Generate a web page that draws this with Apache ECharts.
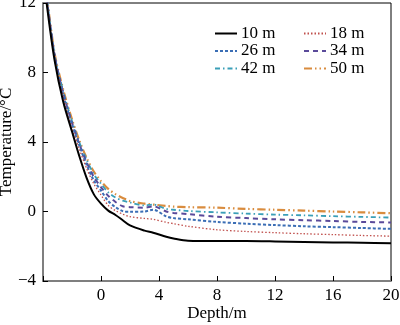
<!DOCTYPE html>
<html><head><meta charset="utf-8">
<script src="https://cdn.jsdelivr.net/npm/echarts@6/dist/echarts.min.js"></script>
<style>html,body{margin:0;padding:0;background:#fff}#c{width:400px;height:325px}</style>
</head><body><div id="c"></div>
<script>
const depth = [-3.75,-3.2,-2.6,-2,-1.5,-1,-0.5,0,0.5,1,1.5,2,3,3.6,4.5,5,6,8,10,12,14,16,18,20];
const t10 = [12.0,8.7,6.3,4.6,3.2,1.95,1.0,0.45,0.05,-0.2,-0.5,-0.8,-1.1,-1.22,-1.45,-1.55,-1.68,-1.7,-1.7,-1.72,-1.75,-1.78,-1.8,-1.83];
const t18 = [12.2,8.8,6.6,4.8,3.6,2.5,1.6,0.95,0.35,0.05,-0.15,-0.3,-0.4,-0.45,-0.62,-0.7,-0.85,-1.05,-1.15,-1.22,-1.28,-1.33,-1.38,-1.42];
const t26 = [12.3,8.9,6.7,5.0,3.8,2.7,1.8,1.2,0.6,0.25,0.02,-0.02,0.0,0.1,-0.28,-0.38,-0.45,-0.6,-0.7,-0.78,-0.85,-0.9,-0.95,-1.0];
const t34 = [12.3,9.0,6.8,5.1,3.9,2.85,2.0,1.4,0.9,0.55,0.3,0.25,0.22,0.3,0.0,-0.08,-0.15,-0.3,-0.38,-0.45,-0.5,-0.55,-0.6,-0.63];
const t42 = [12.4,9.0,6.9,5.2,4.0,3.0,2.15,1.6,1.1,0.8,0.62,0.52,0.35,0.4,0.15,0.1,0.03,-0.05,-0.12,-0.18,-0.22,-0.27,-0.31,-0.35];
const t50 = [12.5,9.1,7.0,5.3,4.1,3.1,2.3,1.75,1.3,1.0,0.78,0.6,0.45,0.4,0.32,0.28,0.25,0.22,0.15,0.1,0.05,0.0,-0.05,-0.1];
const names = ['10 m','18 m','26 m','34 m','42 m','50 m'];
const values = [t10,t18,t26,t34,t42,t50];
const colors = ['#000000','#c0504d','#3b6eb5','#5a4a9a','#3a9fb8','#d98c3e'];
const widths = [2,1.3,2,2,1.8,2.2];
const dashes = ['solid',[1.5,2],[3,2],[5,4],[5,3,1.5,3],[8,3,1.5,3,1.5,3]];
const font = '"Liberation Serif","Times New Roman",serif';
const chart = echarts.init(document.getElementById('c'));
const series = names.map((n,i)=>({
  name:n, type:'line', symbol:'none', smooth:0.3,
  data: depth.map((d,j)=>[d, values[i][j]]),
  lineStyle:{color:colors[i], width:widths[i], type:dashes[i]},
  itemStyle:{color:colors[i]}, z: 10-i
}));
function mkLegend(left, data){
  return {orient:'vertical', left:left, top:25, data:data, itemWidth:22, itemHeight:12, itemGap:0.5,
    padding:0, itemStyle:{opacity:0},
    textStyle:{fontFamily:font, fontSize:17, color:'#000', lineHeight:17, padding:[0,0,0,-1]}};
}
chart.setOption({
  animation:false,
  grid:{left:43, right:9, top:3, bottom:44, outerBoundsMode:'none', containLabel:false,
    show:true, borderColor:'#000', borderWidth:1},
  legend:[ mkLegend(214,['10 m','26 m','42 m']), mkLegend(303,['18 m','34 m','50 m']) ],
  xAxis:{type:'value', min:-4, max:20, interval:4,
    name:'Depth/m', nameLocation:'middle', nameGap:24, nameMoveOverlap:false,
    nameTextStyle:{fontFamily:font, fontSize:17, color:'#000'},
    axisLine:{onZero:false, lineStyle:{color:'#7f7f7f', width:2}},
    axisTick:{inside:true, length:5, lineStyle:{color:'#000'}},
    axisLabel:{fontFamily:font, fontSize:17, color:'#000', margin:6,
      formatter:v=> v===-4?'':String(v)},
    splitLine:{show:false}},
  yAxis:{type:'value', min:-4, max:12, interval:4,
    name:'Temperature/°C', nameLocation:'middle', nameGap:28, nameMoveOverlap:false,
    nameTextStyle:{fontFamily:font, fontSize:17, color:'#000'},
    axisLine:{show:true, onZero:false, lineStyle:{color:'#7f7f7f', width:2}},
    axisTick:{show:true, inside:true, length:5, lineStyle:{color:'#000'}},
    axisLabel:{fontFamily:font, fontSize:17, color:'#000', margin:7,
      formatter:v=> String(v).replace('-','\u2212')},
    splitLine:{show:false}},
  series: series
});
</script></body></html>
